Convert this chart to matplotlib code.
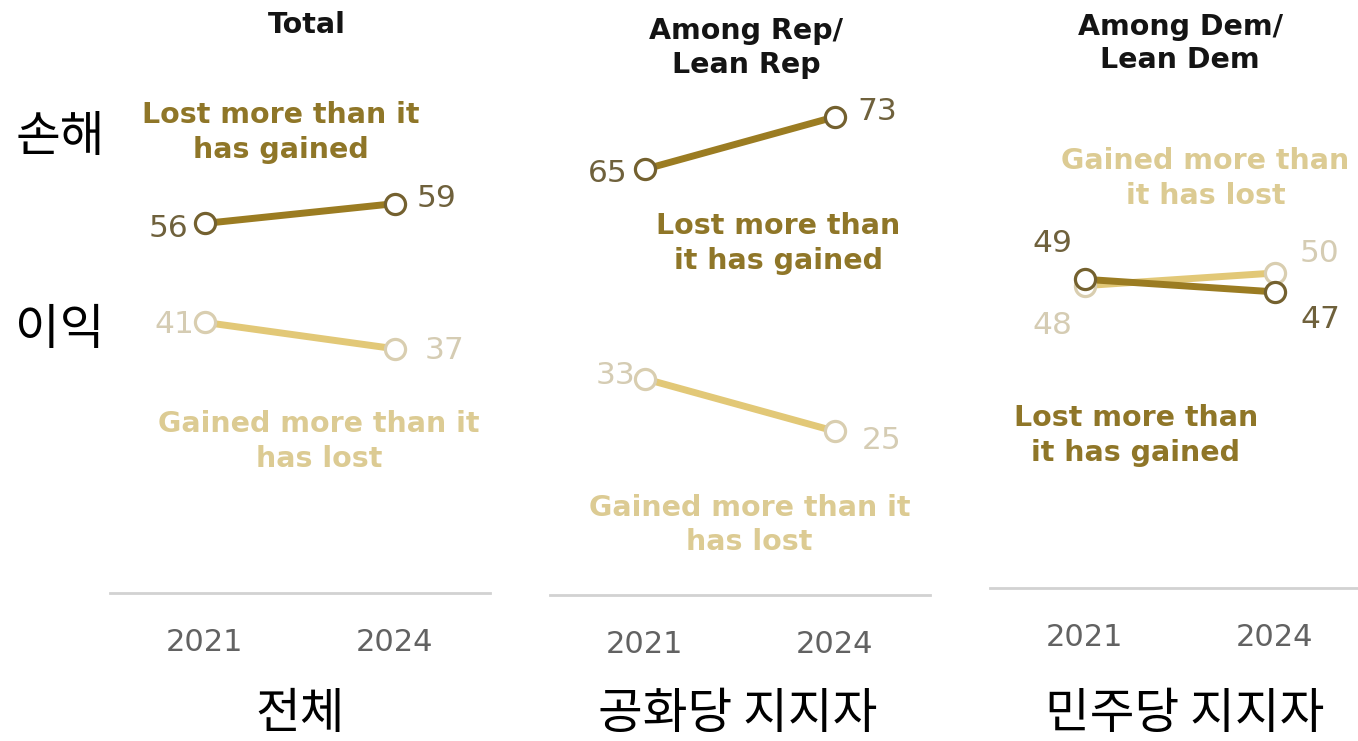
#!/usr/bin/env python3
"""Slope charts: views on whether the country has lost or gained, 2021 vs 2024."""

import matplotlib

matplotlib.use("Agg")
import matplotlib.pyplot as plt

plt.rcParams.update(
    {
        "font.family": ["DejaVu Sans"],
        "axes.linewidth": 0.8,
        "savefig.dpi": 100,
    }
)

# Data
years = [2021, 2024]
panel_titles = ["Total", "Among Rep/\nLean Rep", "Among Dem/\nLean Dem"]
panel_names_ko = ["전체", "공화당 지지자", "민주당 지지자"]
lost_more = [[56, 59], [65, 73], [49, 47]]
gained_more = [[41, 37], [33, 25], [48, 50]]
lost_text = ["Lost more than it\nhas gained", "Lost more than\nit has gained", "Lost more than\nit has gained"]
gained_text = ["Gained more than it\nhas lost", "Gained more than it\nhas lost", "Gained more than\nit has lost"]
row_labels_ko = ["손해", "이익"]

# Colours
DARK_LINE = "#9b7c22"
DARK_EDGE = "#74612f"
DARK_TEXT = "#8f7628"
DARK_NUM = "#6f613c"
LIGHT_LINE = "#e2c877"
LIGHT_EDGE = "#d9ceb0"
LIGHT_TEXT = "#dccb93"
LIGHT_NUM = "#d5ccb3"
AXIS_GRAY = "#d2d2d2"
TICK_GRAY = "#626262"

W, H = 1358, 741

# Panel boxes in pixels: left, baseline (from top), width, px per unit
panel_boxes = [(110, 593, 380, 6.6), (550, 595, 380, 6.55), (990, 588, 380, 6.3)]
name_centers = [300, 738, 1185]

# Label placement per panel: (ha, dx, dy) in pixels for [2021, 2024]
lost_offsets = [
    [("right", -17, -5), ("left", 22, 5)],
    [("right", -17, -4), ("left", 22, 5)],
    [("center", -33, 36), ("left", 25, -28)],
]
gained_offsets = [
    [("right", -11, -2), ("left", 30, -2)],
    [("right", -10, 3), ("left", 27, -9)],
    [("center", -33, -40), ("left", 25, 20)],
]
# Annotation text positions in data coords (x year, y value)
lost_text_pos = [(2022.2, 69.8), (2023.1, 53.7), (2021.8, 24.2)]
gained_text_pos = [(2022.8, 23.0), (2022.65, 10.7), (2022.9, 65.0)]
title_pos = [(2022.6, 86.1), (2022.6, 83.5), (2022.5, 86.4)]

YMAX = 90

fig = plt.figure(figsize=(W / 100, H / 100), dpi=100)

for i, (left, base, width, scale) in enumerate(panel_boxes):
    height = YMAX * scale
    ax = fig.add_axes([left / W, 1 - base / H, width / W, height / H])
    ax.set_xlim(2019.5, 2025.5)
    ax.set_ylim(0, YMAX)
    ax.patch.set_alpha(0)
    for side in ["top", "right", "left"]:
        ax.spines[side].set_visible(False)
    ax.spines["bottom"].set_color(AXIS_GRAY)
    ax.spines["bottom"].set_linewidth(2)
    ax.set_yticks([])
    ax.set_xticks(years)
    ax.set_xticklabels([str(y) for y in years], fontsize=22, color=TICK_GRAY)
    ax.tick_params(axis="x", length=0, pad=25)

    # Lines: gained first so the lost line sits on top
    for vals, line_c, edge_c in [
        (gained_more[i], LIGHT_LINE, LIGHT_EDGE),
        (lost_more[i], DARK_LINE, DARK_EDGE),
    ]:
        ax.plot(years, vals, color=line_c, lw=5, solid_capstyle="butt", zorder=2)
        ax.plot(
            years, vals, "o", ms=14.5, mfc="white", mec=edge_c, mew=2.3,
            zorder=3, clip_on=False,
        )

    for vals, offs, c in [
        (lost_more[i], lost_offsets[i], DARK_NUM),
        (gained_more[i], gained_offsets[i], LIGHT_NUM),
    ]:
        for x, v, (ha, dx, dy) in zip(years, vals, offs):
            ax.annotate(
                str(v), (x, v), xytext=(dx, dy), textcoords="offset pixels",
                ha=ha, va="center", fontsize=22.5, color=c,
            )

    ax.text(*lost_text_pos[i], lost_text[i], ha="center", va="center",
            fontsize=20.5, fontweight="bold", color=DARK_TEXT, linespacing=1.3)
    ax.text(*gained_text_pos[i], gained_text[i], ha="center", va="center",
            fontsize=20.5, fontweight="bold", color=LIGHT_TEXT, linespacing=1.3)
    ax.text(*title_pos[i], panel_titles[i], ha="center", va="center",
            fontsize=20.5, fontweight="bold", color="#141414", linespacing=1.25)

# Korean labels
ko_font = ["Noto Sans CJK KR", "DejaVu Sans"]
for cx, name in zip(name_centers, panel_names_ko):
    fig.text(cx / W, 1 - 714 / H, name, ha="center", va="center",
             fontsize=35, family=ko_font, color="black")
for label, py in zip(row_labels_ko, [137, 330]):
    fig.text(60 / W, 1 - py / H, label, ha="center", va="center",
             fontsize=35, family=ko_font, color="black")

fig.savefig("out.png", dpi=100, facecolor="white")
